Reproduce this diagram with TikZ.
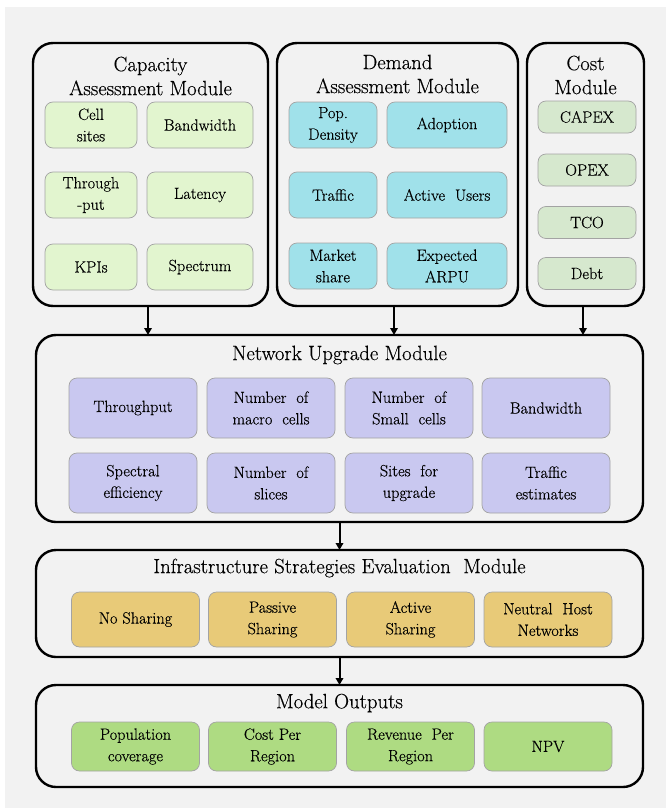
\documentclass[tikz,border=0pt]{standalone}
\usepackage{fontspec}
\setmainfont{Latin Modern Roman}[BoldFont=Latin Modern Roman, BoldFeatures={FakeBold=0.35}]
\usetikzlibrary{arrows.meta}
\definecolor{bgc}{HTML}{F2F2F2}
\definecolor{capc}{HTML}{E2F5CF}
\definecolor{demc}{HTML}{A0E1EA}
\definecolor{costc}{HTML}{D6E8CE}
\definecolor{netc}{HTML}{C9C8F0}
\definecolor{infc}{HTML}{E8CA78}
\definecolor{outc}{HTML}{AEDB82}
\definecolor{itemborder}{HTML}{A3A3A3}
\tikzset{
  module/.style={draw=black, line width=2.4pt, rounded corners=20pt, fill=bgc, inner sep=0pt, outer sep=0pt},
  item/.style={draw=itemborder, line width=0.7pt, rounded corners=8pt, align=center, inner sep=0pt, outer sep=0pt,
    font=\bfseries\fontsize{16.3}{21.5}\selectfont},
  ttl/.style={align=center, inner sep=0pt, font=\bfseries\fontsize{20.7}{24}\selectfont},
  arr/.style={line width=2pt, -{Triangle[length=7pt,width=7.5pt]}},
}
\begin{document}
\begin{tikzpicture}[x=1pt,y=-1pt]
\useasboundingbox (0,0) rectangle (666,808);
\fill[bgc] (5,7) rectangle (666,808);

% ---------- top modules ----------
\node[module, minimum width=235pt, minimum height=263pt] (cap) at (150.5,174.5) {};
\node[ttl] (capt) at (150.5,76) {Capacity\\Assessment Module};
\begin{scope}[every node/.append style={item, fill=capc, minimum height=46pt}]
\node[minimum width=92pt]  (cs)   at (91,125)  {Cell\\sites};
\node[minimum width=106pt] (bw1)  at (200,125) {Bandwidth};
\node[minimum width=92pt]  (tp)   at (91,195)  {Through\\-put};
\node[minimum width=106pt] (lat)  at (200,195) {Latency};
\node[minimum width=92pt]  (kpi)  at (91,267)  {KPIs};
\node[minimum width=106pt] (spec) at (200,267) {Spectrum};
\end{scope}

\node[module, minimum width=241pt, minimum height=263pt] (dem) at (397.5,174.5) {};
\node[ttl] (demt) at (397.5,74) {Demand\\Assessment Module};
\begin{scope}[every node/.append style={item, fill=demc, minimum height=46pt}]
\node[minimum width=88pt]  (pop)  at (333,125) {Pop.\\Density};
\node[minimum width=120pt] (adop) at (447,125) {Adoption};
\node[minimum width=88pt]  (traf) at (333,195) {Traffic};
\node[minimum width=120pt] (act)  at (447,195) {Active\ \ Users};
\node[minimum width=88pt]  (mkt)  at (333,266) {Market\\share};
\node[minimum width=120pt] (arpu) at (447,266) {Expected\\ARPU};
\end{scope}

\node[module, minimum width=117pt, minimum height=263pt] (cost) at (585.5,174.5) {};
\node[ttl] (costt) at (585.5,75) {Cost\\Module};
\begin{scope}[every node/.append style={item, fill=costc, minimum height=32pt, minimum width=98pt}]
\node (capex) at (587,117)   {CAPEX};
\node (opex)  at (587,170)   {OPEX};
\node (tco)   at (587,222.5) {TCO};
\node (debt)  at (587,273.5) {Debt};
\end{scope}

% ---------- network upgrade ----------
\node[module, minimum width=607pt, minimum height=187pt] (net) at (339.5,428.5) {};
\node[ttl] (nett) at (339.5,355) {Network Upgrade Module};
\begin{scope}[every node/.append style={item, fill=netc, minimum height=60pt, minimum width=128pt}]
\node (n1) at (133,408) {Throughput};
\node (n2) at (271,408) {Number\ \ of\\macro\ \ cells};
\node (n3) at (409,408) {Number\ \ of\\Small\ \ cells};
\node (n4) at (546,408) {Bandwidth};
\node (n5) at (133,483) {Spectral\\efficiency};
\node (n6) at (271,483) {Number\ \ of\\slices};
\node (n7) at (409,483) {Sites\ \ for\\upgrade};
\node (n8) at (546,483) {Traffic\\estimates};
\end{scope}

% ---------- infrastructure ----------
\node[module, minimum width=607pt, minimum height=107pt] (inf) at (339.5,603.5) {};
\node[ttl] (inft) at (339.5,568) {Infrastructure Strategies Evaluation\ \ Module};
\begin{scope}[every node/.append style={item, fill=infc, minimum height=55pt, minimum width=128pt}]
\node (i1) at (135.5,619.5) {No Sharing};
\node (i2) at (272.5,619.5) {Passive\\Sharing};
\node (i3) at (410.5,619.5) {Active\\Sharing};
\node (i4) at (548,619.5)   {Neutral\ \ Host\\Networks};
\end{scope}

% ---------- outputs ----------
\node[module, minimum width=607pt, minimum height=102pt] (out) at (339.5,736) {};
\node[ttl] (outt) at (339.5,703) {Model Outputs};
\begin{scope}[every node/.append style={item, fill=outc, minimum height=49pt, minimum width=128pt}]
\node (o1) at (135.5,746.5) {Population\\coverage};
\node (o2) at (272.5,746.5) {Cost Per\\Region};
\node (o3) at (410.5,746.5) {Revenue\ \ Per\\Region};
\node (o4) at (548,746.5)   {NPV};
\end{scope}

% ---------- arrows ----------
\draw[arr] ([xshift=-2.5pt]cap.south) -- ([xshift=-2.5pt]cap.south |- net.north);
\draw[arr] ([xshift=-3.5pt]dem.south) -- ([xshift=-3.5pt]dem.south |- net.north);
\draw[arr] ([xshift=-2.5pt]cost.south) -- ([xshift=-2.5pt]cost.south |- net.north);
\draw[arr] (net.south) -- (inf.north);
\draw[arr] (inf.south) -- (out.north);
\end{tikzpicture}
\end{document}
